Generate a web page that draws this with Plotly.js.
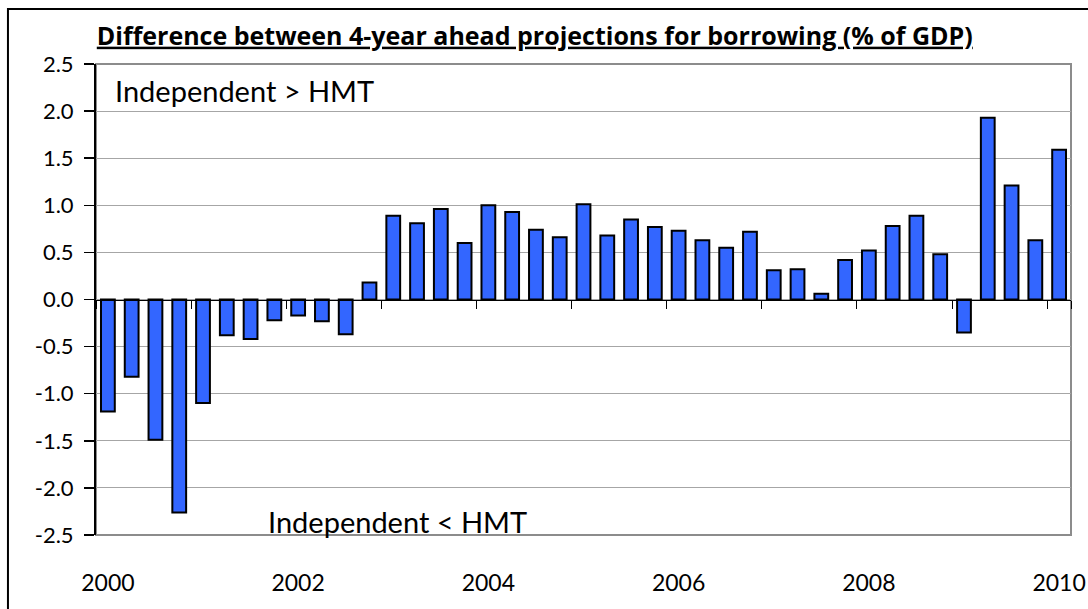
<!DOCTYPE html>
<html>
<head>
<meta charset="utf-8">
<script src="https://cdn.plot.ly/plotly-3.0.1.min.js"></script>
<style>html,body{margin:0;padding:0;background:#fff;}#chart{width:1088px;height:609px;}</style>
</head>
<body>
<div id="chart"></div>
<script>
// Quarterly categories, 2000 Q1 .. 2010 Q1
const quarters = [
  "2000Q1","2000Q2","2000Q3","2000Q4",
  "2001Q1","2001Q2","2001Q3","2001Q4",
  "2002Q1","2002Q2","2002Q3","2002Q4",
  "2003Q1","2003Q2","2003Q3","2003Q4",
  "2004Q1","2004Q2","2004Q3","2004Q4",
  "2005Q1","2005Q2","2005Q3","2005Q4",
  "2006Q1","2006Q2","2006Q3","2006Q4",
  "2007Q1","2007Q2","2007Q3","2007Q4",
  "2008Q1","2008Q2","2008Q3","2008Q4",
  "2009Q1","2009Q2","2009Q3","2009Q4",
  "2010Q1"
];
// Difference (Independent minus HMT), % of GDP
const difference = [
  -1.19, -0.82, -1.49, -2.26,
  -1.10, -0.38, -0.42, -0.22,
  -0.17, -0.23, -0.37, 0.18,
  0.89, 0.81, 0.96, 0.60,
  1.00, 0.93, 0.74, 0.66,
  1.01, 0.68, 0.85, 0.77,
  0.73, 0.63, 0.55, 0.72,
  0.31, 0.32, 0.06, 0.42,
  0.52, 0.78, 0.89, 0.48,
  -0.35, 1.93, 1.21, 0.63,
  1.59
];
// Tick positions (every 4th quarter) and labels (every 2 years)
const tickQuarters = ["2000Q1","2001Q1","2002Q1","2003Q1","2004Q1","2005Q1","2006Q1","2007Q1","2008Q1","2009Q1","2010Q1"];
const tickLabels = ["2000","","2002","","2004","","2006","","2008","","2010"];
const yTicks = [-2.5,-2.0,-1.5,-1.0,-0.5,0.0,0.5,1.0,1.5,2.0,2.5];
const yTickLabels = ["-2.5","-2.0","-1.5","-1.0","-0.5","0.0","0.5","1.0","1.5","2.0","2.5"];

const FONT = "Lato, 'Open Sans', sans-serif";
const TITLE_FONT = "'Open Sans', Lato, sans-serif";

const trace = {
  type: "bar",
  x: quarters,
  y: difference,
  marker: {color: "#3366FF", line: {color: "#000000", width: 2}},
  hoverinfo: "x+y"
};

const layout = {
  width: 1088, height: 609,
  margin: {l: 96, r: 17, t: 64, b: 74},
  paper_bgcolor: "#ffffff",
  plot_bgcolor: "#ffffff",
  showlegend: false,
  bargap: 0.42,
  font: {family: FONT, color: "#000000"},
  title: {
    text: "<b><u>Difference between 4-year ahead projections for borrowing (% of GDP)</u></b>",
    font: {family: TITLE_FONT, size: 25, color: "#000000"},
    xref: "paper", x: 0.45, xanchor: "center",
    yref: "container", y: 0.941, yanchor: "middle"
  },
  xaxis: {
    type: "category",
    range: [-0.5, 40.5],
    anchor: "free", position: 0.5,
    showline: true, linecolor: "#000000", linewidth: 1.5,
    showgrid: false, zeroline: false,
    tickmode: "array", tickvals: tickQuarters, ticktext: tickLabels,
    tickson: "boundaries",
    tickangle: 0,
    ticks: "outside", ticklen: 8, tickwidth: 1, tickcolor: "#000000",
    ticklabelstandoff: 262,
    tickfont: {family: FONT, size: 23, color: "#000000"},
    fixedrange: true
  },
  yaxis: {
    range: [-2.5, 2.5],
    tickmode: "array", tickvals: yTicks, ticktext: yTickLabels,
    showline: true, linecolor: "#000000", linewidth: 2,
    ticks: "outside", ticklen: 10, tickwidth: 1.5, tickcolor: "#000000",
    ticklabelstandoff: 6,
    showgrid: true, gridcolor: "#a6a6a6", gridwidth: 1,
    zeroline: false,
    tickfont: {family: FONT, size: 22, color: "#000000"},
    fixedrange: true
  },
  shapes: [
    {type: "rect", xref: "paper", yref: "paper", x0: 0, x1: 1, y0: 0, y1: 1,
     line: {color: "#8c8c8c", width: 2}, layer: "below"},
    {type: "rect", xref: "paper", yref: "paper", x0: -0.0903, x1: 1.05, y0: -0.2, y1: 1.117,
     line: {color: "#000000", width: 2}, layer: "below"}
  ],
  annotations: [
    {text: "Independent &gt; HMT", xref: "paper", yref: "paper", x: 0.0174, y: 0.985,
     xanchor: "left", yanchor: "top", showarrow: false,
     font: {family: FONT, size: 29, color: "#000000"}},
    {text: "Independent &lt; HMT", xref: "paper", yref: "paper", x: 0.1744, y: -0.012,
     xanchor: "left", yanchor: "bottom", showarrow: false,
     font: {family: FONT, size: 29, color: "#000000"}}
  ]
};

Plotly.newPlot("chart", [trace], layout, {displayModeBar: false, staticPlot: true});
</script>
</body>
</html>
